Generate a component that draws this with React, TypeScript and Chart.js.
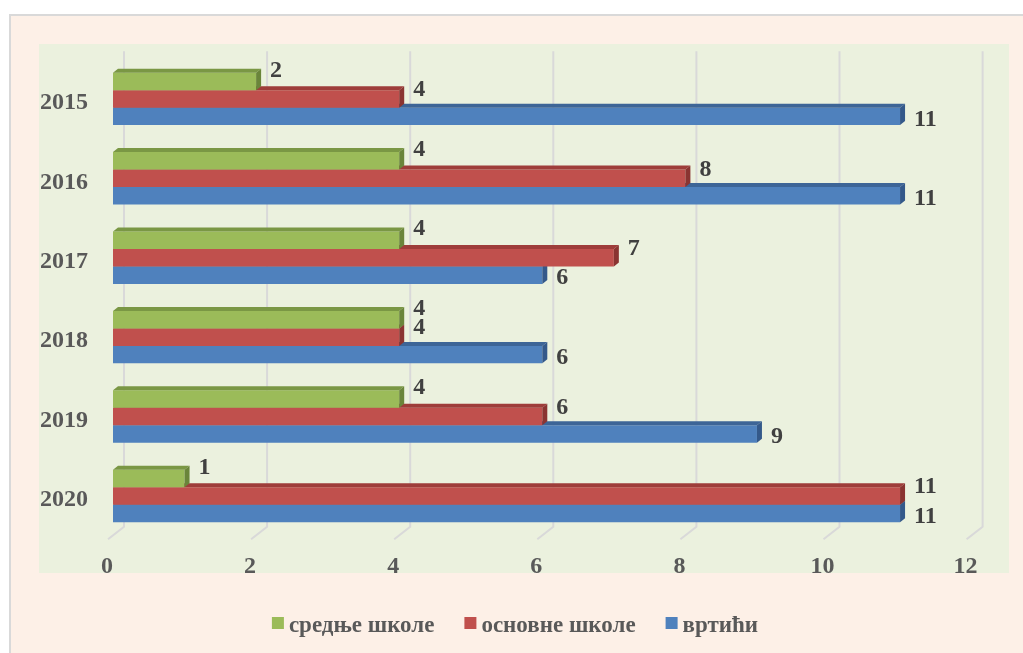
import { useEffect, useRef } from "react";
import { Chart, registerables } from "chart.js";

Chart.register(...registerables);

// Years shown on the category axis (top to bottom)
const years = ["2015", "2016", "2017", "2018", "2019", "2020"];

// Counts per institution type
const secondarySchools = [2, 4, 4, 4, 4, 1];
const primarySchools = [4, 8, 7, 4, 6, 11];
const kindergartens = [11, 11, 6, 6, 9, 11];

const seriesNames = ["средње школе", "основне школе", "вртићи"];

// Value axis range
const axisMin = 0;
const axisMax = 12;
const axisStep = 2;

const FONT_FAMILY = '"Liberation Serif", "Times New Roman", serif';
const FONT_SIZE = 24;
const LEGEND_FONT_SIZE = 23;
const frontColors = ["#9BBB59", "#C0504D", "#4F81BD"];
const topColors = ["#7A9744", "#9E3D3A", "#3D6597"];
const sideColors = ["#6A853A", "#8A3431", "#34598A"];
// vertical nudge of value labels, per series
const labelNudge = [-11, -9, 3];

const DEPTH_X = 5;
const DEPTH_Y = 4;
const GRID_SHIFT = 11;

const backgroundPlugin = {
  id: "panelBackground",
  beforeDraw(chart: any) {
    const { ctx, width, height } = chart;
    ctx.save();
    ctx.fillStyle = "#FFFFFF";
    ctx.fillRect(0, 0, width, height);
    // outer panel
    ctx.fillStyle = "#FDF0E7";
    ctx.fillRect(10, 15, width - 10, height - 15);
    ctx.strokeStyle = "#D9D9D9";
    ctx.lineWidth = 2;
    ctx.beginPath();
    ctx.moveTo(10, height);
    ctx.lineTo(10, 15);
    ctx.lineTo(width, 15);
    ctx.stroke();
    // plot panel
    ctx.fillStyle = "#EBF1DE";
    ctx.fillRect(39, 44, 970, 529);
    ctx.restore();
  },
};

const gridPlugin = {
  id: "depthGrid",
  beforeDatasetsDraw(chart: any) {
    const { ctx, chartArea } = chart;
    const xs = chart.scales.x;
    ctx.save();
    ctx.strokeStyle = "#D9D9D9";
    ctx.lineWidth = 2;
    for (let v = axisMin; v <= axisMax; v += axisStep) {
      const px = xs.getPixelForValue(v);
      ctx.beginPath();
      ctx.moveTo(px + GRID_SHIFT, chartArea.top - 8);
      ctx.lineTo(px + GRID_SHIFT, chartArea.bottom - 9);
      ctx.lineTo(px - 5, chartArea.bottom + 3.5);
      ctx.stroke();
    }
    ctx.restore();
  },
};

const depthPlugin = {
  id: "barDepth",
  afterDatasetDraw(chart: any, args: any) {
    const { ctx } = chart;
    const i = args.index;
    const meta = chart.getDatasetMeta(i);
    ctx.save();
    meta.data.forEach((bar: any) => {
      const { x, y, base, height } = bar.getProps(["x", "y", "base", "height"], true);
      const top = y - height / 2;
      const bottom = y + height / 2;
      ctx.fillStyle = topColors[i];
      ctx.beginPath();
      ctx.moveTo(base, top);
      ctx.lineTo(x, top);
      ctx.lineTo(x + DEPTH_X, top - DEPTH_Y);
      ctx.lineTo(base + DEPTH_X, top - DEPTH_Y);
      ctx.closePath();
      ctx.fill();
      ctx.fillStyle = sideColors[i];
      ctx.beginPath();
      ctx.moveTo(x, top);
      ctx.lineTo(x + DEPTH_X, top - DEPTH_Y);
      ctx.lineTo(x + DEPTH_X, bottom - DEPTH_Y);
      ctx.lineTo(x, bottom);
      ctx.closePath();
      ctx.fill();
    });
    ctx.restore();
  },
};

const valueLabelPlugin = {
  id: "valueLabels",
  afterDatasetsDraw(chart: any) {
    const { ctx } = chart;
    ctx.save();
    ctx.font = `bold ${FONT_SIZE}px ${FONT_FAMILY}`;
    ctx.fillStyle = "#404040";
    ctx.textAlign = "left";
    ctx.textBaseline = "middle";
    chart.data.datasets.forEach((ds: any, i: number) => {
      const meta = chart.getDatasetMeta(i);
      meta.data.forEach((bar: any, j: number) => {
        const { x, y } = bar.getProps(["x", "y"], true);
        ctx.fillText(String(ds.data[j]), x + 14, y + labelNudge[i]);
      });
    });
    ctx.restore();
  },
};

const legendPlugin = {
  id: "bottomLegend",
  afterDraw(chart: any) {
    const { ctx } = chart;
    ctx.save();
    ctx.font = `bold ${LEGEND_FONT_SIZE}px ${FONT_FAMILY}`;
    ctx.textBaseline = "alphabetic";
    ctx.textAlign = "left";
    const box = 12;
    const gapBox = 5;
    const gapItem = 30;
    const widths = seriesNames.map((n) => ctx.measureText(n).width);
    const total = widths.reduce((a, w) => a + box + gapBox + w, 0) + gapItem * (seriesNames.length - 1);
    let cx = 515 - total / 2;
    seriesNames.forEach((name, i) => {
      ctx.fillStyle = frontColors[i];
      ctx.fillRect(cx, 617, box, box);
      ctx.fillStyle = "#595959";
      ctx.fillText(name, cx + box + gapBox, 632);
      cx += box + gapBox + widths[i] + gapItem;
    });
    ctx.restore();
  },
};

export default function App() {
  const canvasRef = useRef<HTMLCanvasElement | null>(null);

  useEffect(() => {
    if (!canvasRef.current) return;
    const tickFont = { family: FONT_FAMILY, size: FONT_SIZE, weight: "bold" as const };
    const chart = new Chart(canvasRef.current, {
      type: "bar",
      data: {
        labels: years,
        datasets: [
          { label: seriesNames[0], data: secondarySchools, backgroundColor: frontColors[0] },
          { label: seriesNames[1], data: primarySchools, backgroundColor: frontColors[1] },
          { label: seriesNames[2], data: kindergartens, backgroundColor: frontColors[2] },
        ],
      },
      options: {
        indexAxis: "y",
        responsive: false,
        animation: false,
        layout: { padding: { top: 59.2, right: 51.4, bottom: 0, left: 0 } },
        datasets: { bar: { categoryPercentage: 0.66, barPercentage: 1 } },
        plugins: { legend: { display: false }, tooltip: { enabled: false } },
        scales: {
          x: {
            min: axisMin,
            max: axisMax,
            ticks: { stepSize: axisStep, font: tickFont, color: "#595959", padding: 17, labelOffset: -6 },
            grid: { display: false, drawTicks: false },
            border: { display: false },
            afterFit: (s: any) => {
              s.height = 117.3;
            },
          },
          y: {
            ticks: { font: tickFont, color: "#595959", padding: 25, labelOffset: 4 },
            grid: { display: false, drawTicks: false },
            border: { display: false },
            afterFit: (s: any) => {
              s.width = 113;
            },
          },
        },
      },
      plugins: [backgroundPlugin, gridPlugin, depthPlugin, valueLabelPlugin, legendPlugin],
    } as any);
    return () => chart.destroy();
  }, []);

  return (
    <div style={{ position: "fixed", left: 0, top: 0, width: 1023, height: 653 }}>
      <canvas ref={canvasRef} width={1023} height={653} style={{ display: "block" }} />
    </div>
  );
}
